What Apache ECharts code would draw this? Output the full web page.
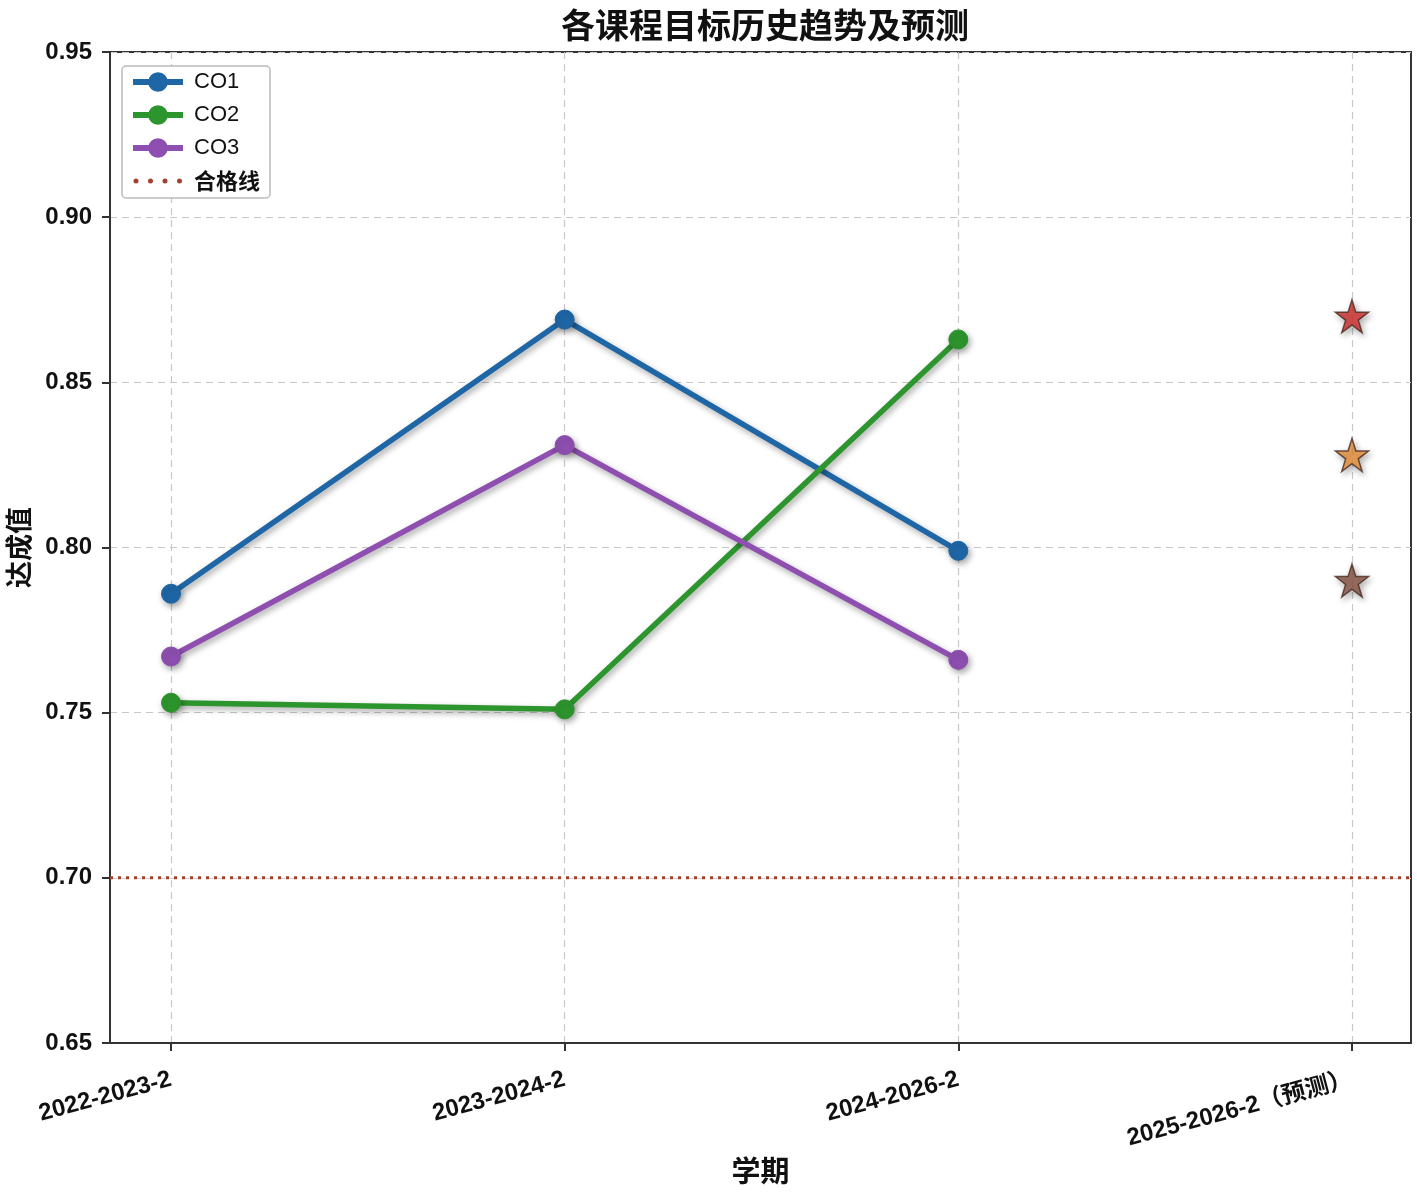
<!DOCTYPE html>
<html><head><meta charset="utf-8">
<script src="https://cdn.jsdelivr.net/npm/echarts@6/dist/echarts.min.js"></script>
<style>html,body{margin:0;padding:0;background:#fff}#c{width:1417px;height:1194px}</style>
</head><body><div id="c"></div>
<script>
const categories = ['2022-2023-2', '2023-2024-2', '2024-2026-2', '2025-2026-2（预测）'];
const co1 = [0.786, 0.869, 0.799];
const co2 = [0.753, 0.751, 0.863];
const co3 = [0.767, 0.831, 0.766];
const forecast = [0.870, 0.828, 0.790];
const passLine = 0.70;

const FONT = 'Liberation Sans, Arial, Noto Sans CJK SC, sans-serif';
const CJK = 'Noto Sans CJK SC, sans-serif';
const starPath = 'path://M50,0 L61.2,34.5 L97.6,34.5 L68.2,55.9 L79.4,90.5 L50,69.1 L20.6,90.5 L31.8,55.9 L2.4,34.5 L38.8,34.5 Z';
const dotsIcon = 'path://' + [3, 17.5, 32, 46.5].map(c =>
  'M' + (c - 2.5) + ',2.5 a2.5,2.5 0 1,0 5,0 a2.5,2.5 0 1,0 -5,0 Z').join(' ') + ' M0,0 M50,5';
const starColors = ['#d6302c', '#ef9339', '#8d5846'];
const xMin = -0.155, xMax = 3.15;
const idx = categories.map((c, i) => i);

const shadow = {shadowColor: 'rgba(0,0,0,0.35)', shadowBlur: 6, shadowOffsetX: 2, shadowOffsetY: 3};
function lineSeries(name, vals, color) {
  return {
    name, type: 'line', data: vals.map((v, i) => [i, v]),
    symbol: 'circle', symbolSize: 19,
    lineStyle: Object.assign({color, width: 5.5}, shadow),
    itemStyle: Object.assign({color, borderColor: color, borderWidth: 1}, shadow),
    z: 3
  };
}

const chart = echarts.init(document.getElementById('c'));
chart.setOption({
  backgroundColor: '#fff',
  animation: false,
  title: {
    text: '各课程目标历史趋势及预测', left: 760, top: 3, textAlign: 'center',
    textStyle: {fontFamily: CJK, fontWeight: 'bold', fontSize: 34, color: '#111'}
  },
  grid: {left: 110, right: 6, top: 52, bottom: 151, outerBoundsMode: 'none', containLabel: false,
    show: true, borderColor: '#333', borderWidth: 2, backgroundColor: 'transparent'},
  legend: {
    left: 122, top: 66, orient: 'vertical', itemGap: 11, itemWidth: 50, itemHeight: 22,
    padding: [5, 10, 6, 8], borderColor: '#bbb', borderWidth: 1.5, borderRadius: 4, backgroundColor: '#fff',
    lineStyle: {width: 6},
    textStyle: {fontFamily: FONT, fontSize: 22, color: '#111', padding: [0, 0, 0, 6]},
    data: ['CO1', 'CO2', 'CO3', {name: '合格线', icon: dotsIcon, textStyle: {fontFamily: CJK, fontWeight: 'bold', fontSize: 22}}]
  },
  xAxis: {
    type: 'value', min: xMin, max: xMax,
    name: '学期', nameLocation: 'middle', nameGap: 113,
    nameTextStyle: {fontFamily: CJK, fontWeight: 'bold', fontSize: 29, color: '#111'},
    axisLine: {show: true, onZero: false, lineStyle: {color: '#333', width: 2}},
    axisTick: {show: true, customValues: idx, length: 8, lineStyle: {color: '#333', width: 2}},
    axisLabel: {
      customValues: idx, rotate: 15, margin: 36,
      fontFamily: FONT, fontWeight: 'bold', fontSize: 24, color: '#111',
      formatter: v => categories[Math.round(v)]
    },
    splitLine: {show: true, lineStyle: {color: '#c8c8c8', type: [7, 5], width: 1.2}}
  },
  yAxis: {
    type: 'value', min: 0.65, max: 0.95, interval: 0.05,
    name: '达成值', nameLocation: 'middle', nameGap: 78, nameRotate: 90,
    nameTextStyle: {fontFamily: CJK, fontWeight: 'bold', fontSize: 27, color: '#111'},
    axisLine: {show: true, onZero: false, lineStyle: {color: '#333', width: 2}},
    axisTick: {show: true, length: 8, lineStyle: {color: '#333', width: 2}},
    axisLabel: {fontFamily: FONT, fontWeight: 'bold', fontSize: 24, color: '#111', margin: 18,
      formatter: v => v.toFixed(2)},
    splitLine: {show: true, lineStyle: {color: '#c8c8c8', type: [7, 5], width: 1.2}}
  },
  series: [
    lineSeries('CO1', co1, '#1f66a6'),
    lineSeries('CO2', co2, '#2d952d'),
    lineSeries('CO3', co3, '#8e4fb0'),
    {
      name: '合格线', type: 'line', data: [[xMin, passLine], [xMax, passLine]],
      symbol: 'none', lineStyle: {color: '#a5402e', width: 3, type: [3, 5]}, itemStyle: {color: '#a5402e'}, z: 2
    },
    {
      name: '预测', type: 'scatter', symbol: starPath, symbolSize: 33,
      data: forecast.map((v, i) => ({value: [3, v], itemStyle: {color: starColors[i]}})),
      itemStyle: Object.assign({borderColor: '#4a2a20', borderWidth: 1.5}, shadow), z: 4
    }
  ]
});
</script></body></html>
